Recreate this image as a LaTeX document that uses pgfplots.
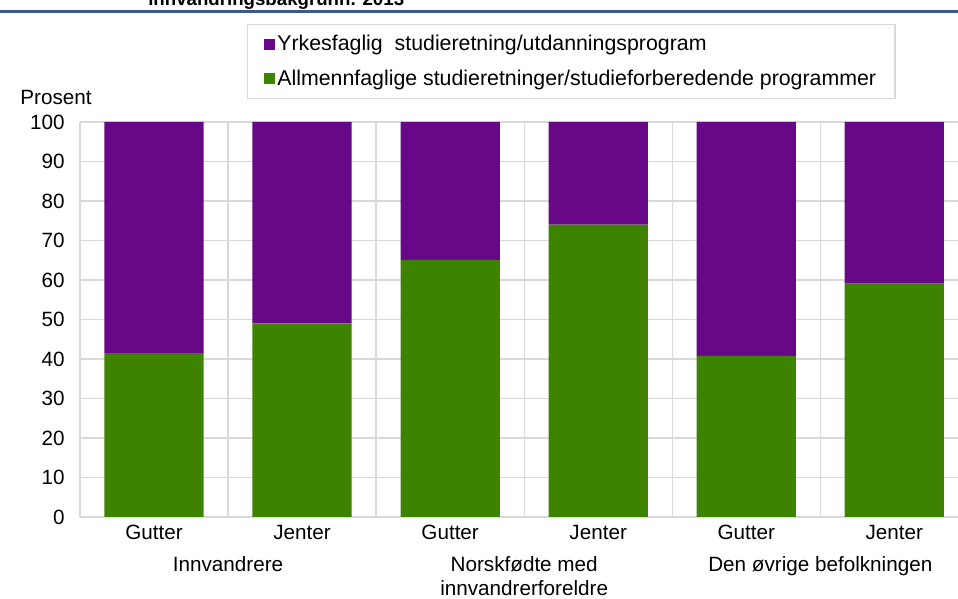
\documentclass[border=0pt]{standalone}
\usepackage{fontspec}
\setmainfont{Liberation Sans}
\usepackage{pgfplots}
\pgfplotsset{compat=1.18}
\definecolor{yrkes}{RGB}{104,8,136}
\definecolor{allmenn}{RGB}{62,131,0}
\definecolor{gridgray}{RGB}{217,217,217}
\definecolor{titleblue}{RGB}{62,88,138}
\newcommand{\chartfont}{\fontsize{15.5}{18}\selectfont}
\newcommand{\legendfont}{\fontsize{16}{19}\selectfont}

\begin{document}
\begin{tikzpicture}
\useasboundingbox (-60pt,-61.5pt) rectangle (658.5pt,387.75pt);
\begin{axis}[
  at={(0,0)}, anchor=south west,
  scale only axis,
  width=658.5pt, height=296.25pt,
  ybar stacked, bar width=0.67,
  xmin=-0.5, xmax=5.43,
  ymin=0, ymax=100,
  ytick={0,10,...,100},
  xtick={0,...,5},
  xticklabels={Gutter,Jenter,Gutter,Jenter,Gutter,Jenter},
  minor xtick={-0.5,0.5,1.5,2.5,3.5,4.5},
  xminorgrids, ymajorgrids,
  grid style={draw=gridgray, line width=1pt},
  minor grid style={draw=gridgray, line width=1pt},
  major tick length=0pt, minor tick length=0pt,
  axis line style={draw=none},
  tick label style={font=\chartfont},
  /pgf/number format/assume math mode=true,
  yticklabel style={xshift=-8pt},
  xticklabel style={text height=8.2pt, text depth=0pt, yshift=-5pt},
  clip=false,
  reverse legend,
  legend style={
    at={(0.1902,1.248)}, anchor=north west,
    draw=gridgray, line width=1pt,
    font=\legendfont,
    inner xsep=12pt, inner ysep=6pt,
    row sep=9pt,
    nodes={inner xsep=2pt},
  },
  legend cell align=left,
  legend image code/.code={
    \fill[#1] (0pt,-4.1pt) rectangle (8.25pt,4.1pt);
  },
]
\addplot[fill=allmenn, draw=none] coordinates {
  (0,41.5) (1,49.0) (2,65.1) (3,74.0) (4,40.8) (5,59.1)
};
\addplot[fill=yrkes, draw=none] coordinates {
  (0,58.5) (1,51.0) (2,34.9) (3,26.0) (4,59.2) (5,40.9)
};
\legend{Allmennfaglige studieretninger/studieforberedende programmer,
        Yrkesfaglig\ \ studieretning/utdanningsprogram}

\node[font=\chartfont, anchor=base] at (axis cs:0.5,0) [yshift=-41pt] {Innvandrere};
\node[font=\chartfont, anchor=base] at (axis cs:2.5,0) [yshift=-41pt] {Norskfødte med};
\node[font=\chartfont, anchor=base, text depth=0pt] at (axis cs:2.5,0) [yshift=-59pt] {innvandrerforeldre};
\node[font=\chartfont, anchor=base] at (axis cs:4.5,0) [yshift=-41pt] {Den øvrige befolkningen};
\node[font=\chartfont, anchor=base] at (rel axis cs:0,1) [xshift=-18pt, yshift=13pt] {Prosent};
\end{axis}
\draw[titleblue, line width=2.25pt] (-60pt,378.75pt) -- (658.5pt,378.75pt);
\node[anchor=base west, inner sep=0pt, font=\bfseries\fontsize{14}{16}\selectfont]
  at (51pt,383.5pt) {innvandringsbakgrunn. 2013};
\end{tikzpicture}
\end{document}
